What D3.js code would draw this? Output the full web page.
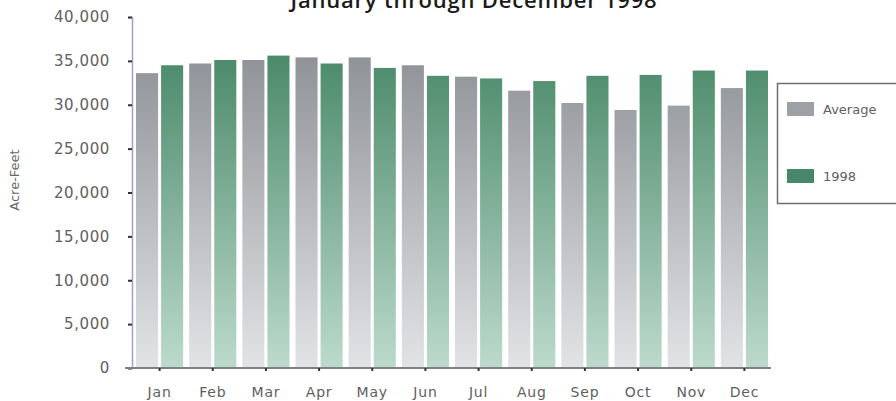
<!DOCTYPE html>
<html>
<head>
<meta charset="utf-8">
<script src="https://cdn.jsdelivr.net/npm/d3@7"></script>
<style>
  body { margin: 0; background: #fff; }
  svg { display: block; }
  text { font-family: "DejaVu Sans", sans-serif; }
</style>
</head>
<body>
<svg id="chart" width="896" height="401"></svg>
<script>
const months = ['Jan', 'Feb', 'Mar', 'Apr', 'May', 'Jun', 'Jul', 'Aug', 'Sep', 'Oct', 'Nov', 'Dec']
const series = ['Average', '1998']
const averageValues = [33600, 34700, 35100, 35400, 35400, 34500, 33200, 31600, 30200, 29400, 29900, 31900]
const values1998 = [34500, 35100, 35600, 34700, 34200, 33300, 33000, 32700, 33300, 33400, 33900, 33900]
const yTicks = [0, 5000, 10000, 15000, 20000, 25000, 30000, 35000, 40000]

const svg = d3.select('#chart')

const x0 = d3.scaleBand().domain(months).range([133, 771]).padding(0)
const x1 = d3.scaleBand().domain(series).range([0, x0.bandwidth()]).paddingInner(0.12).paddingOuter(0.12)
const y = d3.scaleLinear().domain([0, 40000]).range([368, 17])

const colors = {
  Average: ['#85888e', '#e2e3e5'],
  '1998': ['#3d805e', '#bcdacc']
}

// vertical gradients over the whole plot height
const defs = svg.append('defs')
series.forEach((s, i) => {
  const g = defs.append('linearGradient')
    .attr('id', 'grad' + i)
    .attr('gradientUnits', 'userSpaceOnUse')
    .attr('x1', 0).attr('x2', 0)
    .attr('y1', y(40000)).attr('y2', y(0))
  g.append('stop').attr('offset', '0%').attr('stop-color', colors[s][0])
  g.append('stop').attr('offset', '100%').attr('stop-color', colors[s][1])
})

const rows = months.map((m, i) => ({ month: m, vals: [averageValues[i], values1998[i]] }))

const groups = svg.append('g').selectAll('g')
  .data(rows)
  .enter()
  .append('g')
  .attr('transform', d => `translate(${x0(d.month)},0)`)

groups.selectAll('rect')
  .data(d => d.vals.map((v, i) => ({ key: series[i], value: v, i })))
  .enter()
  .append('rect')
  .attr('x', d => x1(d.key))
  .attr('width', x1.bandwidth())
  .attr('y', d => y(d.value))
  .attr('height', d => y(0) - y(d.value))
  .attr('fill', d => `url(#grad${d.i})`)

// y axis
const yAxis = svg.append('g')
  .attr('transform', 'translate(132,0)')
  .call(d3.axisLeft(y).tickValues(yTicks).tickFormat(d3.format(',')).tickSize(4).tickPadding(18))
yAxis.select('.domain').attr('stroke', '#a59bd2').attr('stroke-width', 1.5)
yAxis.selectAll('.tick line').attr('stroke', '#333').attr('stroke-width', 2)
yAxis.selectAll('.tick text')
  .attr('fill', '#606060')
  .style('font-size', '15px')
  .style('letter-spacing', '0.6px')

// x axis
const xAxis = svg.append('g')
  .attr('transform', 'translate(0,368)')
  .call(d3.axisBottom(x0).tickSize(3).tickPadding(16).tickSizeOuter(0))
xAxis.select('.domain').attr('d', 'M125,0H771').attr('stroke', '#7d8088').attr('stroke-width', 2)
xAxis.selectAll('.tick line').attr('stroke', '#333').attr('stroke-width', 2)
xAxis.selectAll('.tick text')
  .attr('fill', '#606060')
  .style('font-size', '14px')
  .style('letter-spacing', '0.8px')

// title (cut at the top in the original)
svg.append('text')
  .attr('x', 474)
  .attr('y', 8)
  .attr('text-anchor', 'middle')
  .style('font-family', '"Open Sans", sans-serif')
  .style('font-weight', 600)
  .style('font-size', '22px')
  .style('letter-spacing', '0.8px')
  .attr('fill', '#1a1a1a')
  .text('January through December 1998')

// y label
svg.append('text')
  .attr('transform', 'translate(19,180) rotate(-90)')
  .attr('text-anchor', 'middle')
  .style('font-size', '13px')
  .attr('fill', '#666')
  .text('Acre-Feet')

// legend
const legend = svg.append('g')
legend.append('rect')
  .attr('x', 777.5).attr('y', 83.5)
  .attr('width', 130).attr('height', 120)
  .attr('fill', '#fff')
  .attr('stroke', '#6f6f6f')
  .attr('stroke-width', 1.5)
series.forEach((s, i) => {
  const ly = 102 + i * 67
  legend.append('rect')
    .attr('x', 787).attr('y', ly)
    .attr('width', 27).attr('height', 14)
    .attr('fill', colors[s][0])
    .attr('opacity', i === 0 ? 0.8 : 0.95)
  legend.append('text')
    .attr('x', 823).attr('y', ly + 12)
    .style('font-size', '13px')
    .attr('fill', '#606060')
    .text(s)
})
</script>
</body>
</html>
